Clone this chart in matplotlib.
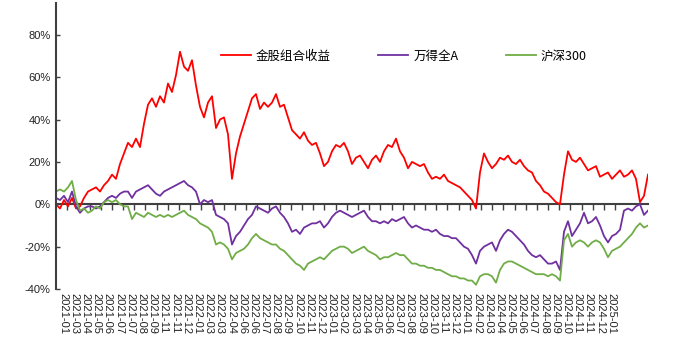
import numpy as np
import matplotlib.pyplot as plt
from matplotlib.ticker import FuncFormatter

plt.rcParams['font.family'] = ['Liberation Sans', 'DejaVu Sans']

# month labels on the category axis
tick_labels = [
    '2021-01', '2021-03', '2021-04', '2021-05', '2021-06', '2021-07', '2021-07',
    '2021-08', '2021-09', '2021-11', '2021-11', '2021-12',
    '2022-01', '2022-03', '2022-03', '2022-04', '2022-06', '2022-06', '2022-07',
    '2022-08', '2022-09', '2022-10', '2022-11', '2022-12',
    '2023-01', '2023-02', '2023-03', '2023-04', '2023-05', '2023-06', '2023-07',
    '2023-08', '2023-09', '2023-10', '2023-11', '2023-12',
    '2024-01', '2024-02', '2024-03', '2024-04', '2024-05', '2024-06', '2024-07',
    '2024-08', '2024-09', '2024-10', '2024-11', '2024-11', '2024-12',
    '2025-01',
]

# cumulative returns (%), sampled roughly weekly
jingu = [
    0, -2, 2, -1, 3, -2, -1, 3, 6, 7,
    8, 6, 9, 11, 14, 12, 19, 24, 29, 27,
    31, 27, 38, 47, 50, 46, 51, 48, 57, 53,
    61, 72, 65, 63, 68, 56, 46, 41, 48, 51,
    36, 40, 41, 33, 12, 24, 32, 38, 44, 50,
    52, 45, 48, 46, 48, 52, 46, 47, 41, 35,
    33, 31, 34, 30, 28, 29, 24, 18, 20, 25,
    28, 27, 29, 25, 19, 22, 23, 20, 17, 21,
    23, 20, 25, 28, 27, 31, 25, 22, 17, 20,
    19, 18, 19, 15, 12, 13, 12, 14, 11, 10,
    9, 8, 6, 4, 2, -2, 15, 24, 20, 17,
    19, 22, 21, 23, 20, 19, 21, 18, 16, 15,
    11, 9, 6, 5, 3, 1, 0, 14, 25, 21,
    20, 22, 19, 16, 17, 18, 13, 14, 15, 12,
    14, 16, 13, 14, 16, 12, 1, 4, 14,
]
wind_a = [
    3, 2, 4, 1, 6, -1, -4, -2, -1, -1,
    -2, -1, 1, 3, 4, 3, 5, 6, 6, 3,
    6, 7, 8, 9, 7, 5, 4, 6, 7, 8,
    9, 10, 11, 9, 8, 6, 0, 2, 1, 2,
    -5, -6, -7, -9, -19, -15, -13, -10, -7, -5,
    -1, -2, -3, -4, -2, -1, -4, -6, -9, -13,
    -12, -14, -11, -10, -9, -9, -8, -11, -9, -6,
    -4, -3, -4, -5, -6, -5, -4, -3, -6, -8,
    -8, -9, -8, -9, -7, -8, -7, -6, -9, -11,
    -10, -11, -12, -12, -13, -12, -14, -15, -15, -16,
    -16, -18, -20, -21, -24, -28, -22, -20, -19, -18,
    -22, -17, -14, -12, -13, -15, -17, -19, -22, -24,
    -25, -24, -26, -28, -28, -27, -31, -13, -8, -15,
    -12, -9, -4, -9, -8, -6, -10, -15, -18, -15,
    -14, -12, -3, -2, -3, -1, 0, -5, -3,
]
hs300 = [
    6, 7, 6, 8, 11, 2, -3, -2, -4, -3,
    -1, -2, 1, 2, 1, 2, 0, -1, -1, -7,
    -4, -5, -6, -4, -5, -6, -5, -6, -5, -6,
    -5, -4, -3, -5, -6, -7, -9, -10, -11, -13,
    -19, -18, -19, -21, -26, -23, -22, -21, -19, -16,
    -14, -16, -17, -18, -19, -19, -21, -22, -24, -26,
    -28, -29, -31, -28, -27, -26, -25, -26, -24, -22,
    -21, -20, -20, -21, -23, -22, -21, -20, -22, -23,
    -24, -26, -25, -25, -24, -23, -24, -24, -26, -28,
    -28, -29, -29, -30, -30, -31, -31, -32, -33, -34,
    -34, -35, -35, -36, -36, -38, -34, -33, -33, -34,
    -37, -31, -28, -27, -27, -28, -29, -30, -31, -32,
    -33, -33, -33, -34, -33, -34, -36, -17, -14, -20,
    -18, -17, -18, -20, -18, -17, -18, -21, -25, -22,
    -21, -20, -18, -16, -14, -11, -9, -11, -10,
]

fig = plt.figure(figsize=(7.0, 3.46), dpi=100)
ax = fig.add_axes([0.08, 0.1647, 0.8457, 0.8266])

x = np.arange(len(jingu))
ax.plot(x, jingu, color='#FF0000', lw=1.3, label='金股组合收益')
ax.plot(x, wind_a, color='#7030A0', lw=1.3, label='万得全A')
ax.plot(x, hs300, color='#70AD47', lw=1.3, label='沪深300')

ymin, ymax = -40, 95
ax.set_ylim(ymin, ymax)
ax.set_xlim(0, len(x) - 1)

ax.set_yticks(np.arange(-40, 81, 20))
ax.yaxis.set_major_formatter(FuncFormatter(lambda v, p: f'{v:.0f}%'))
ax.tick_params(axis='y', direction='in', length=3, width=1, colors='#404040',
               labelsize=8, labelcolor='#222222', pad=4)

for side in ('top', 'right', 'bottom'):
    ax.spines[side].set_visible(False)
ax.spines['left'].set_color('#404040')
ax.spines['left'].set_linewidth(1.5)

# labels sit under the plot, ticks live on the zero line
tick_pos = np.linspace(1.8, 138.8, len(tick_labels))
ax.set_xticks(tick_pos)
ax.set_xticklabels(tick_labels, rotation=270, fontsize=8, color='#222222')
ax.tick_params(axis='x', length=0, pad=3)

zero = ax.secondary_xaxis((0 - ymin) / (ymax - ymin))
zero.set_xticks(tick_pos + 1.0)
zero.set_xticklabels([])
zero.tick_params(axis='x', direction='out', length=4, width=1, colors='#404040')
zero.spines['bottom'].set_color('#404040')
zero.spines['bottom'].set_linewidth(1.5)

fig.legend(loc='center', bbox_to_anchor=(0.577, 0.838), ncol=3, frameon=False,
           handlelength=2.4, handletextpad=0.4, columnspacing=3.8,
           prop={'family': ['Noto Sans CJK SC', 'DejaVu Sans'], 'size': 9})

fig.savefig('out.png', dpi=100)
